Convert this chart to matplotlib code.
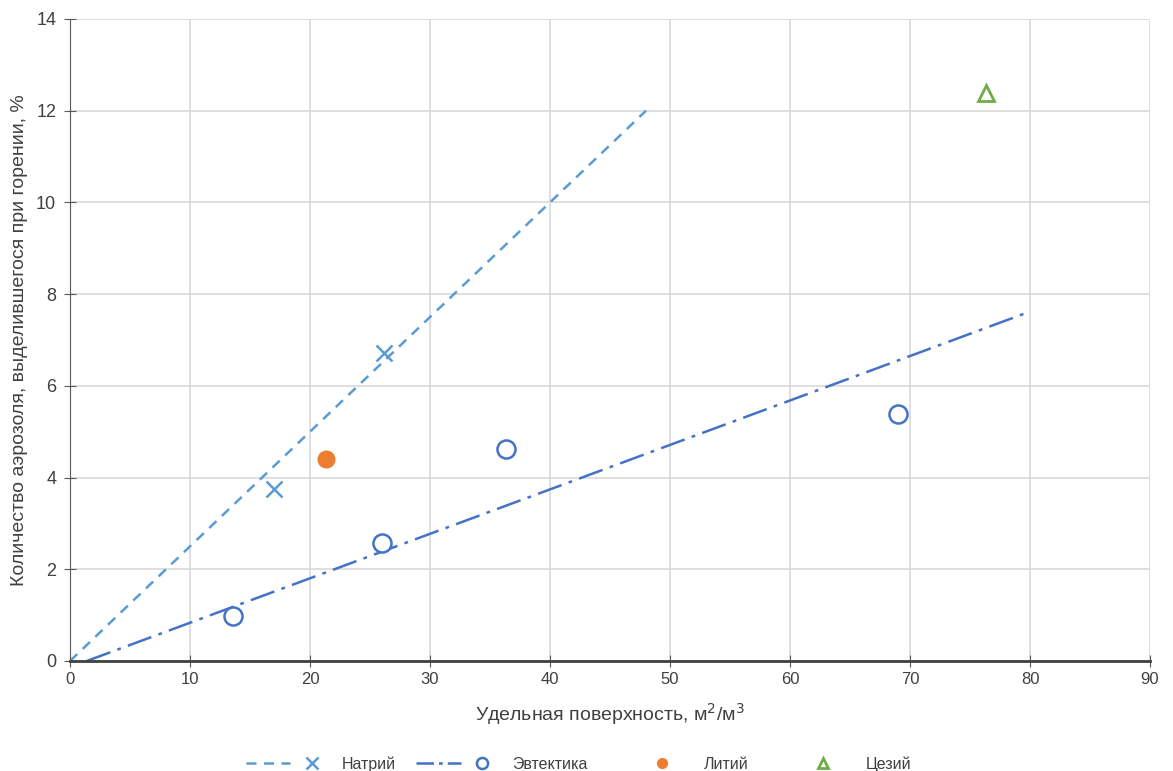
import matplotlib
matplotlib.use("Agg")
import matplotlib.pyplot as plt
from matplotlib.lines import Line2D
from matplotlib.legend_handler import HandlerLine2DCompound

# Натрий: points and trend line
na_x = [17.0, 26.2]
na_y = [3.75, 6.72]
na_trend_x = [0.0, 48.0]
na_trend_y = [0.0, 12.0]

# Эвтектика: points and trend line
eu_x = [13.6, 26.0, 36.3, 69.0]
eu_y = [0.98, 2.57, 4.62, 5.39]
eu_trend_x = [1.4, 79.8]
eu_trend_y = [0.0, 7.6]

# Литий / Цезий
li_x = [21.3]
li_y = [4.40]
cs_x = [76.3]
cs_y = [12.39]

labels = ["Натрий", "Эвтектика", "Литий", "Цезий"]
x_ticks = list(range(0, 91, 10))
y_ticks = list(range(0, 15, 2))

c_na = "#5B9BD5"
c_eu = "#4472C4"
c_li = "#ED7D31"
c_cs = "#70AD47"
narrow = ['Liberation Sans Narrow', 'Liberation Sans', 'DejaVu Sans']


class LineThenMarker(HandlerLine2DCompound):
    """Legend entry: line on the left, marker near the right end (Excel style)."""
    def __init__(self, line_end=0.62, marker_at=0.92, **kw):
        super().__init__(**kw)
        self.line_end = line_end
        self.marker_at = marker_at

    def get_xdata(self, legend, xdescent, ydescent, width, height, fontsize):
        x0 = -xdescent
        return [x0, x0 + width * self.line_end], [x0 + width * self.marker_at]


plt.rcParams['font.family'] = ['Liberation Sans', 'DejaVu Sans']

fig = plt.figure(figsize=(11.73, 7.71), dpi=100)
ax = fig.add_axes([0.0597, 0.1427, 0.9207, 0.8327])

ax.plot(na_trend_x, na_trend_y, color=c_na, lw=1.8, ls=(0, (4, 3)))
ax.plot(na_x, na_y, ls="none", marker="x", ms=12, mew=1.8, color=c_na)

ax.plot(eu_trend_x, eu_trend_y, color=c_eu, lw=1.8, ls=(0, (10, 3, 1.5, 3)))
ax.plot(eu_x, eu_y, ls="none", marker="o", ms=13, mfc="white", mec=c_eu, mew=1.8)

ax.plot(li_x, li_y, ls="none", marker="o", ms=12, color=c_li)
ax.plot(cs_x, cs_y, ls="none", marker="^", ms=12, mfc="none", mec=c_cs, mew=2)

ax.set_xlim(0, 90)
ax.set_ylim(0, 14)
ax.set_xticks(x_ticks)
ax.set_yticks(y_ticks)
ax.grid(True, color="#D9D9D9", lw=1.2)
ax.set_axisbelow(True)
for s in ["top", "right"]:
    ax.spines[s].set_visible(False)
ax.spines["left"].set_color("#595959")
ax.spines["bottom"].set_color("#404040")
ax.spines["bottom"].set_linewidth(2)
ax.tick_params(axis="both", direction="inout", length=8, color="#595959",
               labelcolor="#404040")
ax.tick_params(axis="y", labelsize=13, pad=6)
ax.tick_params(axis="x", labelsize=12, pad=4)
for t in ax.get_xticklabels():
    t.set_family(narrow)

ax.set_xlabel("Удельная поверхность, м$^2$/м$^3$", fontsize=14, color="#404040",
              family=narrow, labelpad=10)
ax.set_ylabel("Количество аэрозоля, выделившегося при горении, %", fontsize=14,
              color="#404040", labelpad=6)

h_na = Line2D([], [], color=c_na, lw=1.8, ls=(0, (4, 3)), marker="x", ms=8, mew=1.8)
h_eu = Line2D([], [], color=c_eu, lw=1.8, ls=(0, (7, 2, 1.5, 2)), marker="o", ms=8,
              mfc="white", mec=c_eu, mew=1.8)
h_li = Line2D([], [], ls="none", marker="o", ms=7, color=c_li)
h_cs = Line2D([], [], ls="none", marker="^", ms=7, mfc="none", mec=c_cs, mew=2)
fig.legend([h_na, h_eu, h_li, h_cs], labels, loc="center",
           bbox_to_anchor=(0.493, 0.009), ncol=4, frameon=False, fontsize=11.5,
           handlelength=4.5, columnspacing=1.3, handletextpad=1.5,
           labelcolor="#404040", borderaxespad=0, borderpad=0,
           handler_map={h_na: LineThenMarker(), h_eu: LineThenMarker(),
                        h_li: LineThenMarker(marker_at=0.75),
                        h_cs: LineThenMarker(marker_at=0.75)})

fig.savefig("out.png", dpi=100)
